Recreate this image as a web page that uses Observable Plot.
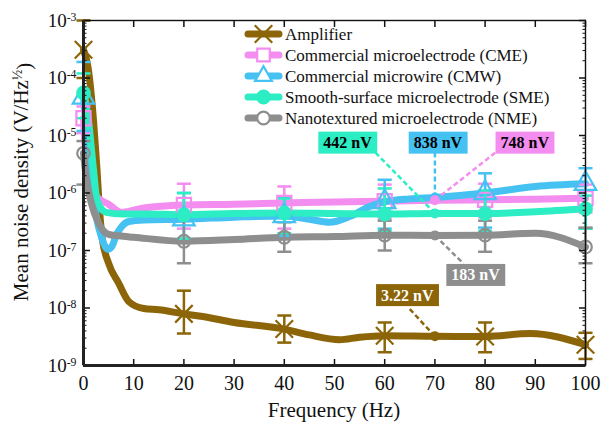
<!DOCTYPE html>
<html><head><meta charset="utf-8">
<script src="https://cdn.jsdelivr.net/npm/d3@7"></script>
<script src="https://cdn.jsdelivr.net/npm/@observablehq/plot@0.6"></script>
<style>
body{margin:0;background:#fff;}
#chart{width:601px;height:422px;}
</style></head><body><div id="chart"></div>
<script>
// ---------- data ----------
const seriesKeys = ["AMP","CME","CMW","SME","NME"];
const seriesNames = ["Amplifier","Commercial microelectrode (CME)","Commercial microwire (CMW)","Smooth-surface microelectrode (SME)","Nanotextured microelectrode (NME)"];
const seriesColors = ["#8B6508","#F48DF0","#45C1F2","#2CEDC4","#8E8E8E"];
const seriesSymbols = ["times","square","triangle","circle","circle"];
const seriesFilled = [false,false,false,true,false];

const markerX = [0,20,40,60,80,100];

const ampCurveX = [0,1,2,2.7,3.1,3.7,5,7,9,12,15,20,23.4,30,40,45,51,55,60,70,80,89,100];
const ampCurveY = [3.1e-4,1.35e-4,1.8e-5,2.5e-6,6.6e-7,1.7e-7,6e-8,2.7e-8,1.3e-8,9.8e-9,9.3e-9,7.9e-9,7.2e-9,5.6e-9,4.3e-9,3.4e-9,2.8e-9,3.1e-9,3.3e-9,3.22e-9,3.2e-9,3.6e-9,2.3e-9];
const ampMarkY = [3.1e-4,7.9e-9,4.3e-9,3.3e-9,3.2e-9,2.3e-9];
const ampLo = [1e-4,3.6e-9,2.5e-9,1.7e-9,1.7e-9,1.3e-9];
const ampHi = [1e-3,2.0e-8,7.4e-9,5.6e-9,5.6e-9,3.7e-9];

const cmeCurveX = [0,0.4,1,1.7,3,5,7.5,9,12,20,30,40,50,60,70,80,90,100];
const cmeCurveY = [2e-5,5e-6,2.5e-6,1.1e-6,8e-7,6.4e-7,4.6e-7,4.8e-7,5.5e-7,6.2e-7,6.4e-7,6.7e-7,7e-7,7.2e-7,7.48e-7,7.6e-7,7.8e-7,8.1e-7];
const cmeMarkY = [2e-5,6.2e-7,6.7e-7,7.2e-7,7.6e-7,8.1e-7];
const cmeLo = [1.1e-5,2.4e-7,2.4e-7,3.6e-7,3.8e-7,4.6e-7];
const cmeHi = [3.2e-5,1.45e-6,1.3e-6,1.4e-6,1.45e-6,1.4e-6];

const cmwCurveX = [0,0.8,1.7,2.7,3.6,4.8,5.7,6.6,7.6,9,12,20,30,40,45,49,53,57,60,65,70,80,90,100];
const cmwCurveY = [4.6e-5,8e-6,1.3e-6,3.3e-7,1.7e-7,1.05e-7,1.2e-7,1.9e-7,2.6e-7,3.2e-7,3.4e-7,3.5e-7,3.8e-7,4.0e-7,3.5e-7,3.1e-7,3.9e-7,5.8e-7,7.0e-7,7.9e-7,8.38e-7,1.0e-6,1.3e-6,1.45e-6];
const cmwMarkY = [4.6e-5,3.5e-7,4.0e-7,7.0e-7,1.0e-6,1.45e-6];
const cmwLo = [1.2e-5,1.6e-7,1.8e-7,2.4e-7,2.5e-7,2.4e-7];
const cmwHi = [1.9e-4,1.0e-6,8.5e-7,1.7e-6,2.2e-6,2.7e-6];

const smeCurveX = [0,1,2,2.7,4.5,7.7,12,20,30,40,50,60,70,80,90,100];
const smeCurveY = [5.5e-5,1.8e-5,2.5e-6,7.4e-7,4.6e-7,4.3e-7,4.3e-7,4.2e-7,4.4e-7,4.5e-7,4.4e-7,4.3e-7,4.42e-7,4.4e-7,4.7e-7,5.3e-7];
const smeMarkY = [5.5e-5,4.2e-7,4.5e-7,4.3e-7,4.4e-7,5.3e-7];
const smeLo = [2e-5,1.6e-7,2e-7,2.2e-7,2.2e-7,2.4e-7];
const smeHi = [1.2e-4,1.0e-6,8e-7,1.2e-6,1.1e-6,9e-7];

const nmeCurveX = [0,0.5,1.5,3,5,7,10,20,30,40,50,60,70,80,90,100];
const nmeCurveY = [4.9e-6,2e-6,7e-7,3e-7,1.9e-7,1.8e-7,1.7e-7,1.45e-7,1.55e-7,1.7e-7,1.75e-7,1.85e-7,1.83e-7,1.85e-7,2e-7,1.15e-7];
const nmeMarkY = [4.9e-6,1.45e-7,1.7e-7,1.85e-7,1.85e-7,1.15e-7];
const nmeLo = [1.4e-6,6e-8,9.5e-8,1e-7,9.5e-8,6e-8];
const nmeHi = [8e-6,3.6e-7,3.1e-7,3.3e-7,3.3e-7,2.5e-7];

// annotations (values at 70 Hz)
const annotKeys = ["SME","CMW","CME","NME","AMP"];
const annotText = ["442 nV","838 nV","748 nV","183 nV","3.22 nV"];
const annotPointX = [70,70,70,70,70];
const annotPointY = [4.42e-7,8.38e-7,7.48e-7,1.83e-7,3.22e-9];
const annotLabelX = [52.6,70.6,87.9,78.1,64.5];
const annotLabelY = [7.4e-6,7.4e-6,7.4e-6,3.7e-8,1.65e-8];
const annotLeadX = [58.2,70,82,75.7,64.8];
const annotLeadY = [5e-6,5e-6,5e-6,5.9e-8,1.0e-8];
const annotTextColor = ["#000","#000","#000","#fff","#fff"];

const xTicks = [0,10,20,30,40,50,60,70,80,90,100];
const yExponents = [-9,-8,-7,-6,-5,-4,-3];

// ---------- build tables ----------
const curves = [[ampCurveX,ampCurveY],[cmeCurveX,cmeCurveY],[cmwCurveX,cmwCurveY],[smeCurveX,smeCurveY],[nmeCurveX,nmeCurveY]];
const marks3 = [[ampMarkY,ampLo,ampHi],[cmeMarkY,cmeLo,cmeHi],[cmwMarkY,cmwLo,cmwHi],[smeMarkY,smeLo,smeHi],[nmeMarkY,nmeLo,nmeHi]];
const colorOf = Object.fromEntries(seriesKeys.map((k,i)=>[k,seriesColors[i]]));

const lineData = seriesKeys.map((k,i)=>curves[i][0].map((x,j)=>({key:k,x,y:curves[i][1][j]})));
const pointData = seriesKeys.map((k,i)=>markerX.map((x,j)=>({key:k,x,y:marks3[i][0][j],lo:marks3[i][1][j],hi:marks3[i][2][j]})));
const annot = annotKeys.map((k,i)=>({key:k,text:annotText[i],px:annotPointX[i],py:annotPointY[i],lx:annotLabelX[i],ly:annotLabelY[i],ex:annotLeadX[i],ey:annotLeadY[i],tc:annotTextColor[i]}));

const yMajor = yExponents.map(e=>Math.pow(10,e));
const yMinor = [];
yExponents.slice(0,-1).forEach(e=>{for(let k=2;k<=9;k++) yMinor.push(k*Math.pow(10,e));});
const capHalf = 1.4;

const marks = [];
seriesKeys.forEach((k,i)=>{
  marks.push(Plot.line(lineData[i],{x:"x",y:"y",stroke:seriesColors[i],strokeWidth:7,curve:"monotone-x",strokeLinejoin:"round",strokeLinecap:"round"}));
});
seriesKeys.forEach((k,i)=>{
  const c = seriesColors[i];
  marks.push(Plot.ruleX(pointData[i],{x:"x",y1:"lo",y2:"hi",stroke:c,strokeWidth:2.5}));
  marks.push(Plot.link(pointData[i],{x1:d=>d.x-capHalf,x2:d=>d.x+capHalf,y1:"lo",y2:"lo",stroke:c,strokeWidth:2.5}));
  marks.push(Plot.link(pointData[i],{x1:d=>d.x-capHalf,x2:d=>d.x+capHalf,y1:"hi",y2:"hi",stroke:c,strokeWidth:2.5}));
});
seriesKeys.forEach((k,i)=>{
  const c = seriesColors[i];
  const sym = seriesSymbols[i];
  const r = sym==="circle" ? 6.3 : 8;
  marks.push(Plot.dot(pointData[i],{x:"x",y:"y",symbol:sym,r,stroke:c,strokeWidth:2.2,fill:seriesFilled[i]?c:"none"}));
});
// annotations
marks.push(Plot.link(annot,{x1:"px",y1:"py",x2:"ex",y2:"ey",stroke:d=>colorOf[d.key],strokeWidth:2.5,strokeDasharray:"5,3"}));
marks.push(Plot.dot(annot,{x:"px",y:"py",r:5,fill:d=>colorOf[d.key]}));
marks.push(Plot.text(annot,{x:"lx",y:"ly",text:"text",fill:"tc",fontWeight:"bold",fontSize:16}));

// axes
marks.push(Plot.axisX({anchor:"bottom",ticks:xTicks,tickSize:-6,tickFormat:()=>"",strokeWidth:1.5}));
marks.push(Plot.axisX({anchor:"top",ticks:xTicks,tickSize:-6,tickFormat:()=>"",strokeWidth:1.5}));
marks.push(Plot.axisX({anchor:"bottom",ticks:xTicks,tickSize:0,tickPadding:10,fontSize:20,label:null}));
marks.push(Plot.axisY({anchor:"left",ticks:yMajor,tickSize:-7,tickFormat:()=>"",strokeWidth:1.5}));
marks.push(Plot.axisY({anchor:"left",ticks:yMinor,tickSize:-3.5,tickFormat:()=>"",strokeWidth:1}));
marks.push(Plot.axisY({anchor:"right",ticks:yMajor,tickSize:-7,tickFormat:()=>"",strokeWidth:1.5}));
marks.push(Plot.axisY({anchor:"right",ticks:yMinor,tickSize:-3.5,tickFormat:()=>"",strokeWidth:1}));
marks.push(Plot.axisY({anchor:"left",ticks:yMajor,tickSize:0,tickPadding:7,fontSize:19,label:null,tickFormat:d=>"10^"+Math.round(Math.log10(d))}));
marks.push(Plot.frame({stroke:"#111",strokeWidth:1.4}));
marks.push(Plot.ruleX([0],{stroke:"#222",strokeWidth:3}));
marks.push(Plot.ruleY([1e-9],{stroke:"#222",strokeWidth:3}));

const svg = Plot.plot({
  width:601,height:422,
  marginLeft:83,marginRight:16,marginTop:20,marginBottom:57,
  x:{domain:[0,100],label:null},
  y:{type:"log",domain:[1e-9,1e-3],label:null},
  style:{fontFamily:"'Liberation Serif', 'Times New Roman', serif",color:"#111",background:"#fff"},
  marks
});
document.getElementById("chart").appendChild(svg);

// ---------- post-processing ----------
const NS = "http://www.w3.org/2000/svg";
svg.querySelectorAll('g[aria-label="y-axis tick label"] text').forEach(t=>{
  const s = t.textContent;
  if(!s.includes("^")) return;
  const e = s.split("^")[1];
  t.textContent = "10";
  const ts = document.createElementNS(NS,"tspan");
  ts.setAttribute("dy","-0.5em");
  ts.setAttribute("font-size","0.62em");
  ts.textContent = e;
  t.appendChild(ts);
});
// annotation boxes
Array.from(svg.querySelectorAll("text")).forEach(t=>{
  const i = annotText.indexOf(t.textContent);
  if(i<0) return;
  const b = t.getBBox();
  const rect = document.createElementNS(NS,"rect");
  const padX = 5, h = 22;
  rect.setAttribute("x",b.x-padX);
  rect.setAttribute("y",b.y+b.height/2-h/2);
  rect.setAttribute("width",b.width+2*padX);
  rect.setAttribute("height",h);
  rect.setAttribute("fill",colorOf[annotKeys[i]]);
  rect.setAttribute("stroke","none");
  const tf = t.getAttribute("transform");
  if(tf) rect.setAttribute("transform",tf);
  t.parentNode.insertBefore(rect,t);
});
// legend
const ff = "'Liberation Serif', 'Times New Roman', serif";
const lg = d3.select(svg).append("g").attr("font-family",ff).attr("text-anchor","start");
const symMap = {times:d3.symbolTimes,square:d3.symbolSquare2,triangle:d3.symbolTriangle2,circle:d3.symbolCircle};
seriesKeys.forEach((k,i)=>{
  const y = 34 + i*21;
  const c = seriesColors[i];
  lg.append("line").attr("x1",248).attr("x2",279).attr("y1",y).attr("y2",y).attr("stroke",c).attr("stroke-width",7).attr("stroke-linecap","round");
  const sym = seriesSymbols[i];
  const r = sym==="circle" ? 6.3 : 8;
  lg.append("path").attr("transform",`translate(263.5,${y})`).attr("d",d3.symbol(symMap[sym],Math.PI*r*r)())
    .attr("stroke",c).attr("stroke-width",2.2).attr("fill",seriesFilled[i]?c:(sym==="times"?"none":"#fff"));
  lg.append("text").attr("x",285).attr("y",y).attr("dy","0.33em").attr("text-anchor","start").attr("font-size",17).attr("fill","#111").text(seriesNames[i]);
});
// axis titles
d3.select(svg).append("text").attr("x",334).attr("y",410).attr("text-anchor","middle").attr("dy","0.33em")
  .attr("font-family",ff).attr("font-size",21).attr("fill","#111").text("Frequency (Hz)");
const yt = d3.select(svg).append("text").attr("transform","translate(21,182) rotate(-90)").attr("text-anchor","middle").attr("dy","0.33em")
  .attr("font-family",ff).attr("font-size",21).attr("fill","#111");
yt.append("tspan").text("Mean noise density (V/Hz");
yt.append("tspan").attr("dy","-0.45em").attr("font-size","0.65em").text("½");
yt.append("tspan").attr("dy","0.45em").text(")");
</script>
</body></html>
